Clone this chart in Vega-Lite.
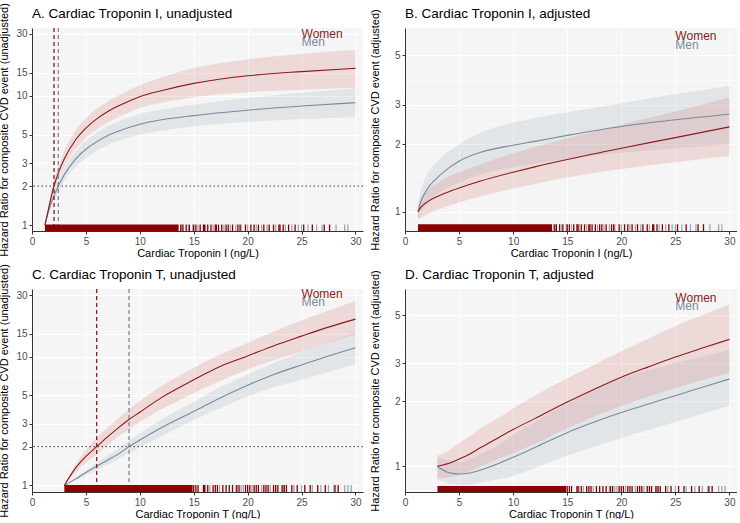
{
  "$schema": "https://vega.github.io/schema/vega-lite/v6.json",
  "background": "white",
  "padding": {"left": -2, "top": 2, "right": 0, "bottom": 0},
  "config": {
    "font": "Liberation Sans",
    "view": {"fill": "#F5F5F5", "stroke": null},
    "title": {"fontSize": 13.5, "fontWeight": "normal", "anchor": "start", "frame": "group", "color": "#000000"},
    "axis": {"minExtent": 0, "domainColor": "#333333", "tickColor": "#333333", "tickSize": 3, "labelColor": "#4D4D4D", "labelFontSize": 10, "labelPadding": 2, "titleFontSize": 11, "titleFontWeight": "normal", "titleColor": "#000000", "gridColor": "#FFFFFF", "labelOverlap": false},
    "axisX": {"titlePadding": 1, "labelFlush": false},
    "axisY": {"format": "d"}
  },
  "datasets": {
    "curves": [
      {"p":"A","s":"Men","x":1.2,"hr":1.0,"lo":1.0,"hi":1.0},
      {"p":"A","s":"Men","x":1.5,"hr":1.25,"lo":1.2,"hi":1.3},
      {"p":"A","s":"Men","x":2,"hr":1.65,"lo":1.52,"hi":1.78},
      {"p":"A","s":"Men","x":2.5,"hr":2.05,"lo":1.85,"hi":2.25},
      {"p":"A","s":"Men","x":3,"hr":2.45,"lo":2.2,"hi":2.75},
      {"p":"A","s":"Men","x":4,"hr":3.2,"lo":2.8,"hi":3.65},
      {"p":"A","s":"Men","x":5,"hr":3.85,"lo":3.3,"hi":4.5},
      {"p":"A","s":"Men","x":6,"hr":4.4,"lo":3.75,"hi":5.15},
      {"p":"A","s":"Men","x":7,"hr":4.9,"lo":4.15,"hi":5.8},
      {"p":"A","s":"Men","x":8,"hr":5.3,"lo":4.45,"hi":6.3},
      {"p":"A","s":"Men","x":10,"hr":6.0,"lo":5.0,"hi":7.2},
      {"p":"A","s":"Men","x":12,"hr":6.5,"lo":5.35,"hi":7.8},
      {"p":"A","s":"Men","x":15,"hr":7.0,"lo":5.8,"hi":8.5},
      {"p":"A","s":"Men","x":20,"hr":7.7,"lo":6.25,"hi":9.6},
      {"p":"A","s":"Men","x":25,"hr":8.3,"lo":6.6,"hi":10.5},
      {"p":"A","s":"Men","x":30,"hr":8.8,"lo":6.8,"hi":11.4},
      {"p":"A","s":"Women","x":1.2,"hr":1.0,"lo":1.0,"hi":1.0},
      {"p":"A","s":"Women","x":1.5,"hr":1.3,"lo":1.22,"hi":1.38},
      {"p":"A","s":"Women","x":2,"hr":1.95,"lo":1.75,"hi":2.2},
      {"p":"A","s":"Women","x":2.5,"hr":2.6,"lo":2.3,"hi":2.95},
      {"p":"A","s":"Women","x":3,"hr":3.25,"lo":2.8,"hi":3.75},
      {"p":"A","s":"Women","x":4,"hr":4.5,"lo":3.8,"hi":5.3},
      {"p":"A","s":"Women","x":5,"hr":5.6,"lo":4.7,"hi":6.7},
      {"p":"A","s":"Women","x":6,"hr":6.6,"lo":5.5,"hi":7.9},
      {"p":"A","s":"Women","x":7,"hr":7.5,"lo":6.2,"hi":9.0},
      {"p":"A","s":"Women","x":8,"hr":8.3,"lo":6.8,"hi":10.0},
      {"p":"A","s":"Women","x":10,"hr":9.8,"lo":8.0,"hi":12.0},
      {"p":"A","s":"Women","x":12,"hr":10.9,"lo":8.8,"hi":13.8},
      {"p":"A","s":"Women","x":15,"hr":12.4,"lo":9.7,"hi":16.3},
      {"p":"A","s":"Women","x":20,"hr":14.2,"lo":10.6,"hi":19.0},
      {"p":"A","s":"Women","x":25,"hr":15.3,"lo":11.1,"hi":21.0},
      {"p":"A","s":"Women","x":30,"hr":16.2,"lo":11.5,"hi":22.5},
      {"p":"B","s":"Men","x":1.2,"hr":1.0,"lo":0.93,"hi":1.08},
      {"p":"B","s":"Men","x":1.5,"hr":1.12,"lo":1.0,"hi":1.25},
      {"p":"B","s":"Men","x":2,"hr":1.25,"lo":1.08,"hi":1.45},
      {"p":"B","s":"Men","x":3,"hr":1.42,"lo":1.2,"hi":1.68},
      {"p":"B","s":"Men","x":4,"hr":1.56,"lo":1.28,"hi":1.85},
      {"p":"B","s":"Men","x":5,"hr":1.68,"lo":1.35,"hi":2.0},
      {"p":"B","s":"Men","x":7,"hr":1.84,"lo":1.47,"hi":2.25},
      {"p":"B","s":"Men","x":10,"hr":1.98,"lo":1.58,"hi":2.5},
      {"p":"B","s":"Men","x":12,"hr":2.06,"lo":1.64,"hi":2.62},
      {"p":"B","s":"Men","x":15,"hr":2.19,"lo":1.72,"hi":2.78},
      {"p":"B","s":"Men","x":20,"hr":2.4,"lo":1.83,"hi":3.05},
      {"p":"B","s":"Men","x":25,"hr":2.57,"lo":1.92,"hi":3.35},
      {"p":"B","s":"Men","x":30,"hr":2.72,"lo":2.0,"hi":3.64},
      {"p":"B","s":"Women","x":1.2,"hr":1.0,"lo":0.92,"hi":1.08},
      {"p":"B","s":"Women","x":1.5,"hr":1.05,"lo":0.94,"hi":1.15},
      {"p":"B","s":"Women","x":2,"hr":1.1,"lo":0.97,"hi":1.24},
      {"p":"B","s":"Women","x":3,"hr":1.17,"lo":1.02,"hi":1.34},
      {"p":"B","s":"Women","x":4,"hr":1.225,"lo":1.06,"hi":1.43},
      {"p":"B","s":"Women","x":5,"hr":1.275,"lo":1.1,"hi":1.5},
      {"p":"B","s":"Women","x":7,"hr":1.37,"lo":1.17,"hi":1.63},
      {"p":"B","s":"Women","x":10,"hr":1.5,"lo":1.27,"hi":1.82},
      {"p":"B","s":"Women","x":12,"hr":1.585,"lo":1.33,"hi":1.94},
      {"p":"B","s":"Women","x":15,"hr":1.71,"lo":1.42,"hi":2.12},
      {"p":"B","s":"Women","x":20,"hr":1.92,"lo":1.55,"hi":2.45},
      {"p":"B","s":"Women","x":25,"hr":2.14,"lo":1.66,"hi":2.8},
      {"p":"B","s":"Women","x":30,"hr":2.39,"lo":1.77,"hi":3.23},
      {"p":"C","s":"Men","x":3,"hr":1.0,"lo":1.0,"hi":1.0},
      {"p":"C","s":"Men","x":4,"hr":1.12,"lo":1.09,"hi":1.15},
      {"p":"C","s":"Men","x":5,"hr":1.26,"lo":1.2,"hi":1.32},
      {"p":"C","s":"Men","x":6,"hr":1.41,"lo":1.32,"hi":1.5},
      {"p":"C","s":"Men","x":7,"hr":1.57,"lo":1.45,"hi":1.7},
      {"p":"C","s":"Men","x":8,"hr":1.75,"lo":1.6,"hi":1.93},
      {"p":"C","s":"Men","x":9,"hr":2.0,"lo":1.79,"hi":2.22},
      {"p":"C","s":"Men","x":10,"hr":2.25,"lo":1.98,"hi":2.55},
      {"p":"C","s":"Men","x":12,"hr":2.8,"lo":2.4,"hi":3.25},
      {"p":"C","s":"Men","x":15,"hr":3.75,"lo":3.2,"hi":4.45},
      {"p":"C","s":"Men","x":17.5,"hr":4.8,"lo":4.0,"hi":5.8},
      {"p":"C","s":"Men","x":20,"hr":6.0,"lo":4.9,"hi":7.3},
      {"p":"C","s":"Men","x":22.5,"hr":7.3,"lo":5.8,"hi":9.0},
      {"p":"C","s":"Men","x":25,"hr":8.6,"lo":6.6,"hi":10.8},
      {"p":"C","s":"Men","x":27.5,"hr":10.1,"lo":7.6,"hi":12.9},
      {"p":"C","s":"Men","x":30,"hr":11.7,"lo":8.7,"hi":15.3},
      {"p":"C","s":"Women","x":3,"hr":1.0,"lo":1.0,"hi":1.0},
      {"p":"C","s":"Women","x":4,"hr":1.35,"lo":1.25,"hi":1.45},
      {"p":"C","s":"Women","x":5,"hr":1.68,"lo":1.5,"hi":1.88},
      {"p":"C","s":"Women","x":6,"hr":2.0,"lo":1.74,"hi":2.34},
      {"p":"C","s":"Women","x":7,"hr":2.38,"lo":2.05,"hi":2.8},
      {"p":"C","s":"Women","x":8,"hr":2.8,"lo":2.4,"hi":3.3},
      {"p":"C","s":"Women","x":9,"hr":3.25,"lo":2.72,"hi":3.9},
      {"p":"C","s":"Women","x":10,"hr":3.7,"lo":3.1,"hi":4.5},
      {"p":"C","s":"Women","x":12,"hr":4.8,"lo":3.9,"hi":5.9},
      {"p":"C","s":"Women","x":15,"hr":6.6,"lo":5.2,"hi":8.2},
      {"p":"C","s":"Women","x":17.5,"hr":8.4,"lo":6.5,"hi":10.4},
      {"p":"C","s":"Women","x":20,"hr":10.1,"lo":7.9,"hi":12.8},
      {"p":"C","s":"Women","x":22.5,"hr":12.2,"lo":9.4,"hi":15.8},
      {"p":"C","s":"Women","x":25,"hr":14.4,"lo":10.9,"hi":19.0},
      {"p":"C","s":"Women","x":27.5,"hr":16.9,"lo":12.8,"hi":22.8},
      {"p":"C","s":"Women","x":30,"hr":19.5,"lo":14.9,"hi":27.0},
      {"p":"D","s":"Men","x":3,"hr":1.0,"lo":0.86,"hi":1.1},
      {"p":"D","s":"Men","x":3.5,"hr":0.96,"lo":0.85,"hi":1.08},
      {"p":"D","s":"Men","x":4,"hr":0.935,"lo":0.83,"hi":1.06},
      {"p":"D","s":"Men","x":5,"hr":0.92,"lo":0.82,"hi":1.05},
      {"p":"D","s":"Men","x":6,"hr":0.93,"lo":0.82,"hi":1.08},
      {"p":"D","s":"Men","x":7,"hr":0.96,"lo":0.84,"hi":1.14},
      {"p":"D","s":"Men","x":8,"hr":1.0,"lo":0.86,"hi":1.2},
      {"p":"D","s":"Men","x":10,"hr":1.1,"lo":0.9,"hi":1.4},
      {"p":"D","s":"Men","x":12,"hr":1.22,"lo":0.98,"hi":1.6},
      {"p":"D","s":"Men","x":15,"hr":1.43,"lo":1.12,"hi":1.95},
      {"p":"D","s":"Men","x":17.5,"hr":1.6,"lo":1.23,"hi":2.25},
      {"p":"D","s":"Men","x":20,"hr":1.77,"lo":1.35,"hi":2.55},
      {"p":"D","s":"Men","x":22.5,"hr":1.94,"lo":1.47,"hi":2.78},
      {"p":"D","s":"Men","x":25,"hr":2.12,"lo":1.6,"hi":3.0},
      {"p":"D","s":"Men","x":27.5,"hr":2.32,"lo":1.75,"hi":3.22},
      {"p":"D","s":"Men","x":30,"hr":2.53,"lo":1.9,"hi":3.45},
      {"p":"D","s":"Women","x":3,"hr":1.0,"lo":0.88,"hi":1.12},
      {"p":"D","s":"Women","x":4,"hr":1.03,"lo":0.89,"hi":1.18},
      {"p":"D","s":"Women","x":5,"hr":1.08,"lo":0.91,"hi":1.28},
      {"p":"D","s":"Women","x":6,"hr":1.14,"lo":0.95,"hi":1.38},
      {"p":"D","s":"Women","x":7,"hr":1.22,"lo":1.0,"hi":1.5},
      {"p":"D","s":"Women","x":8,"hr":1.3,"lo":1.05,"hi":1.6},
      {"p":"D","s":"Women","x":10,"hr":1.48,"lo":1.15,"hi":1.85},
      {"p":"D","s":"Women","x":12,"hr":1.66,"lo":1.27,"hi":2.12},
      {"p":"D","s":"Women","x":15,"hr":1.98,"lo":1.5,"hi":2.55},
      {"p":"D","s":"Women","x":17.5,"hr":2.27,"lo":1.7,"hi":2.95},
      {"p":"D","s":"Women","x":20,"hr":2.58,"lo":1.9,"hi":3.4},
      {"p":"D","s":"Women","x":22.5,"hr":2.88,"lo":2.1,"hi":3.9},
      {"p":"D","s":"Women","x":25,"hr":3.2,"lo":2.3,"hi":4.45},
      {"p":"D","s":"Women","x":27.5,"hr":3.52,"lo":2.5,"hi":5.0},
      {"p":"D","s":"Women","x":30,"hr":3.86,"lo":2.7,"hi":5.6}
    ],
    "denseI": [{"s":"Women","x":1.2,"x2":13.6}],
    "denseT": [{"s":"Women","x":3.0,"x2":14.9}],
    "rugI": [
      {"s":"Men","x":13.9},{"s":"Men","x":14.5},{"s":"Men","x":14.9},{"s":"Men","x":15.4},{"s":"Men","x":16.1},{"s":"Men","x":16.8},{"s":"Men","x":17.8},{"s":"Men","x":18.4},{"s":"Men","x":18.9},{"s":"Men","x":19.4},{"s":"Men","x":20.0},{"s":"Men","x":20.8},{"s":"Men","x":21.3},{"s":"Men","x":21.8},{"s":"Men","x":22.6},{"s":"Men","x":23.5},{"s":"Men","x":24.1},{"s":"Men","x":24.7},{"s":"Men","x":25.0},{"s":"Men","x":25.6},{"s":"Men","x":26.4},{"s":"Men","x":26.9},{"s":"Men","x":28.2},{"s":"Men","x":29.0},{"s":"Men","x":29.3},
      {"s":"Women","x":13.8},{"s":"Women","x":14.0},{"s":"Women","x":14.3},{"s":"Women","x":14.6},{"s":"Women","x":15.0},{"s":"Women","x":15.2},{"s":"Women","x":15.6},{"s":"Women","x":15.9},{"s":"Women","x":16.0},{"s":"Women","x":16.3},{"s":"Women","x":16.6},{"s":"Women","x":17.0},{"s":"Women","x":17.1},{"s":"Women","x":17.3},{"s":"Women","x":17.6},{"s":"Women","x":18.0},{"s":"Women","x":18.2},{"s":"Women","x":18.6},{"s":"Women","x":19.1},{"s":"Women","x":19.3},{"s":"Women","x":19.8},{"s":"Women","x":20.3},{"s":"Women","x":20.6},{"s":"Women","x":21.0},{"s":"Women","x":21.5},{"s":"Women","x":22.0},{"s":"Women","x":22.4},{"s":"Women","x":22.9},{"s":"Women","x":23.0},{"s":"Women","x":23.3},{"s":"Women","x":23.8},{"s":"Women","x":24.4},{"s":"Women","x":25.2},{"s":"Women","x":26.0},{"s":"Women","x":27.1},{"s":"Women","x":27.6}
    ],
    "rugT": [
      {"s":"Men","x":16.1},{"s":"Men","x":16.5},{"s":"Men","x":17.4},{"s":"Men","x":18.9},{"s":"Men","x":19.4},{"s":"Men","x":19.6},{"s":"Men","x":20.4},{"s":"Men","x":21.3},{"s":"Men","x":22.1},{"s":"Men","x":23.3},{"s":"Men","x":24.3},{"s":"Men","x":25.0},{"s":"Men","x":26.0},{"s":"Men","x":26.8},{"s":"Men","x":27.5},{"s":"Men","x":28.0},{"s":"Men","x":29.0},{"s":"Men","x":29.3},{"s":"Men","x":29.6},
      {"s":"Women","x":15.0},{"s":"Women","x":15.2},{"s":"Women","x":15.4},{"s":"Women","x":15.9},{"s":"Women","x":16.0},{"s":"Women","x":16.3},{"s":"Women","x":16.8},{"s":"Women","x":17.0},{"s":"Women","x":17.2},{"s":"Women","x":17.7},{"s":"Women","x":18.0},{"s":"Women","x":18.3},{"s":"Women","x":18.6},{"s":"Women","x":19.0},{"s":"Women","x":19.2},{"s":"Women","x":19.8},{"s":"Women","x":20.0},{"s":"Women","x":20.2},{"s":"Women","x":20.6},{"s":"Women","x":20.8},{"s":"Women","x":21.0},{"s":"Women","x":21.5},{"s":"Women","x":21.7},{"s":"Women","x":21.9},{"s":"Women","x":22.4},{"s":"Women","x":22.6},{"s":"Women","x":22.8},{"s":"Women","x":23.2},{"s":"Women","x":23.4},{"s":"Women","x":23.6},{"s":"Women","x":24.1},{"s":"Women","x":24.6},{"s":"Women","x":25.3},{"s":"Women","x":25.8},{"s":"Women","x":26.5},{"s":"Women","x":27.2},{"s":"Women","x":28.1},{"s":"Women","x":28.4}
    ],
    "labA": [{"s":"Women","x":25,"y":29.9},{"s":"Men","x":25,"y":25.7}],
    "labB": [{"s":"Women","x":25,"y":6.06},{"s":"Men","x":25,"y":5.52}],
    "labC": [{"s":"Women","x":25,"y":30.4},{"s":"Men","x":25,"y":26.4}],
    "labD": [{"s":"Women","x":25,"y":6.02},{"s":"Men","x":25,"y":5.53}],
    "one": [{}]
  },
  "columns": 2,
  "bounds": "flush",
  "spacing": {"row": 58, "column": 42},
  "resolve": {"scale": {"x": "independent", "y": "independent"}},
  "concat": [
    {
      "title": {"text": "A. Cardiac Troponin I, unadjusted", "anchor": "start", "frame": "group", "offset": -18},
      "width": 331, "height": 203,
      "layer": [
        {"data": {"name": "curves"}, "transform": [{"filter": "datum.p == 'A'"}],
         "mark": {"type": "area", "interpolate": "monotone", "fillOpacity": 0.15},
         "encoding": {
           "x": {"field": "x", "type": "quantitative", "scale": {"domain": [0, 30.7], "nice": false, "zero": false},
             "axis": {"title": "Cardiac Troponin I (ng/L)", "values": [0,2.5,5,7.5,10,12.5,15,17.5,20,22.5,25,27.5,30],
               "labelExpr": "datum.value % 5 == 0 ? datum.label : ''",
               "tickOpacity": {"condition": {"test": "datum.value % 5 != 0", "value": 0}, "value": 1},
               "gridWidth": {"condition": {"test": "datum.value % 5 != 0", "value": 0.5}, "value": 1}}},
           "y": {"field": "lo", "type": "quantitative", "scale": {"type": "log", "domain": [0.9, 33.2], "nice": false},
             "axis": {"title": "Hazard Ratio for composite CVD event (unadjusted)", "titlePadding": 6,
               "values": [1,1.414,2,2.449,3,3.873,5,7.071,10,12.25,15,21.21,30],
               "labelExpr": "indexof([1,2,3,5,10,15,30], datum.value) < 0 ? '' : datum.label",
               "tickOpacity": {"condition": {"test": "indexof([1,2,3,5,10,15,30], datum.value) < 0", "value": 0}, "value": 1},
               "gridWidth": {"condition": {"test": "indexof([1,2,3,5,10,15,30], datum.value) < 0", "value": 0.5}, "value": 1}}},
           "y2": {"field": "hi"},
           "fill": {"field": "s", "type": "nominal", "scale": {"domain": ["Women","Men"], "range": ["#C83C3C","#788CA0"]}, "legend": null}
         }},
        {"data": {"name": "curves"}, "transform": [{"filter": "datum.p == 'A'"}],
         "mark": {"type": "line", "interpolate": "monotone", "strokeWidth": 1.1},
         "encoding": {
           "x": {"field": "x", "type": "quantitative"},
           "y": {"field": "hr", "type": "quantitative"},
           "color": {"field": "s", "type": "nominal", "scale": {"domain": ["Women","Men"], "range": ["#8B1A1A","#7A8A9A"]}, "legend": null}
         }},
        {"data": {"name": "one"}, "mark": {"type": "rule", "color": "#8B1A1A", "strokeDash": [4,3], "strokeWidth": 1.3}, "encoding": {"x": {"datum": 2.04}}},
        {"data": {"name": "one"}, "mark": {"type": "rule", "color": "#7A8A9A", "strokeDash": [4,3], "strokeWidth": 1.3}, "encoding": {"x": {"datum": 2.44}}},
        {"data": {"name": "one"}, "mark": {"type": "rule", "color": "#555555", "strokeDash": [1.5,2.5], "strokeWidth": 1.2}, "encoding": {"y": {"datum": 2}}},
        {"data": {"name": "denseI"}, "mark": {"type": "rect", "color": "#8B0000"},
         "encoding": {"x": {"field": "x", "type": "quantitative"}, "x2": {"field": "x2"}, "y": {"datum": 0.9}, "y2": {"datum": 1.01}}},
        {"data": {"name": "rugI"}, "mark": {"type": "rule", "strokeWidth": 1.3},
         "encoding": {"x": {"field": "x", "type": "quantitative"}, "y": {"datum": 0.9}, "y2": {"datum": 1.01},
           "stroke": {"field": "s", "type": "nominal", "scale": {"domain": ["Women","Men"], "range": ["#8B0000","#9AAABA"]}, "legend": null}}},
        {"data": {"name": "labA"}, "mark": {"type": "text", "align": "left", "baseline": "middle", "fontSize": 12},
         "encoding": {"x": {"field": "x", "type": "quantitative"}, "y": {"field": "y", "type": "quantitative"}, "text": {"field": "s"},
           "color": {"field": "s", "type": "nominal", "scale": {"domain": ["Women","Men"], "range": ["#8B1A1A","#7A8A9A"]}, "legend": null}}}
      ]
    },
    {
      "title": {"text": "B. Cardiac Troponin I, adjusted", "anchor": "start", "frame": "group", "offset": -12},
      "width": 332, "height": 203,
      "layer": [
        {"data": {"name": "curves"}, "transform": [{"filter": "datum.p == 'B'"}],
         "mark": {"type": "area", "interpolate": "monotone", "fillOpacity": 0.15},
         "encoding": {
           "x": {"field": "x", "type": "quantitative", "scale": {"domain": [0, 30.7], "nice": false, "zero": false},
             "axis": {"title": "Cardiac Troponin I (ng/L)", "values": [0,2.5,5,7.5,10,12.5,15,17.5,20,22.5,25,27.5,30],
               "labelExpr": "datum.value % 5 == 0 ? datum.label : ''",
               "tickOpacity": {"condition": {"test": "datum.value % 5 != 0", "value": 0}, "value": 1},
               "gridWidth": {"condition": {"test": "datum.value % 5 != 0", "value": 0.5}, "value": 1}}},
           "y": {"field": "lo", "type": "quantitative", "scale": {"type": "log", "domain": [0.82, 6.6], "nice": false},
             "axis": {"title": "Hazard Ratio for composite CVD event (adjusted)", "titlePadding": 14,
               "values": [1,1.414,2,2.449,3,3.873,5],
               "labelExpr": "indexof([1,2,3,5], datum.value) < 0 ? '' : datum.label",
               "tickOpacity": {"condition": {"test": "indexof([1,2,3,5], datum.value) < 0", "value": 0}, "value": 1},
               "gridWidth": {"condition": {"test": "indexof([1,2,3,5], datum.value) < 0", "value": 0.5}, "value": 1}}},
           "y2": {"field": "hi"},
           "fill": {"field": "s", "type": "nominal", "scale": {"domain": ["Women","Men"], "range": ["#C83C3C","#788CA0"]}, "legend": null}
         }},
        {"data": {"name": "curves"}, "transform": [{"filter": "datum.p == 'B'"}],
         "mark": {"type": "line", "interpolate": "monotone", "strokeWidth": 1.1},
         "encoding": {
           "x": {"field": "x", "type": "quantitative"},
           "y": {"field": "hr", "type": "quantitative"},
           "color": {"field": "s", "type": "nominal", "scale": {"domain": ["Women","Men"], "range": ["#8B1A1A","#7A8A9A"]}, "legend": null}
         }},
        {"data": {"name": "denseI"}, "mark": {"type": "rect", "color": "#8B0000"},
         "encoding": {"x": {"field": "x", "type": "quantitative"}, "x2": {"field": "x2"}, "y": {"datum": 0.82}, "y2": {"datum": 0.879}}},
        {"data": {"name": "rugI"}, "mark": {"type": "rule", "strokeWidth": 1.3},
         "encoding": {"x": {"field": "x", "type": "quantitative"}, "y": {"datum": 0.82}, "y2": {"datum": 0.879},
           "stroke": {"field": "s", "type": "nominal", "scale": {"domain": ["Women","Men"], "range": ["#8B0000","#9AAABA"]}, "legend": null}}},
        {"data": {"name": "labB"}, "mark": {"type": "text", "align": "left", "baseline": "middle", "fontSize": 12},
         "encoding": {"x": {"field": "x", "type": "quantitative"}, "y": {"field": "y", "type": "quantitative"}, "text": {"field": "s"},
           "color": {"field": "s", "type": "nominal", "scale": {"domain": ["Women","Men"], "range": ["#8B1A1A","#7A8A9A"]}, "legend": null}}}
      ]
    },
    {
      "title": {"text": "C. Cardiac Troponin T, unadjusted", "anchor": "start", "frame": "group", "offset": -18},
      "width": 331, "height": 203,
      "layer": [
        {"data": {"name": "curves"}, "transform": [{"filter": "datum.p == 'C'"}],
         "mark": {"type": "area", "interpolate": "monotone", "fillOpacity": 0.15},
         "encoding": {
           "x": {"field": "x", "type": "quantitative", "scale": {"domain": [0, 30.7], "nice": false, "zero": false},
             "axis": {"title": "Cardiac Troponin T (ng/L)", "values": [0,2.5,5,7.5,10,12.5,15,17.5,20,22.5,25,27.5,30],
               "labelExpr": "datum.value % 5 == 0 ? datum.label : ''",
               "tickOpacity": {"condition": {"test": "datum.value % 5 != 0", "value": 0}, "value": 1},
               "gridWidth": {"condition": {"test": "datum.value % 5 != 0", "value": 0.5}, "value": 1}}},
           "y": {"field": "lo", "type": "quantitative", "scale": {"type": "log", "domain": [0.89, 33.4], "nice": false},
             "axis": {"title": "Hazard Ratio for composite CVD event (unadjusted)", "titlePadding": 6,
               "values": [1,1.414,2,2.449,3,3.873,5,7.071,10,12.25,15,21.21,30],
               "labelExpr": "indexof([1,2,3,5,10,15,30], datum.value) < 0 ? '' : datum.label",
               "tickOpacity": {"condition": {"test": "indexof([1,2,3,5,10,15,30], datum.value) < 0", "value": 0}, "value": 1},
               "gridWidth": {"condition": {"test": "indexof([1,2,3,5,10,15,30], datum.value) < 0", "value": 0.5}, "value": 1}}},
           "y2": {"field": "hi"},
           "fill": {"field": "s", "type": "nominal", "scale": {"domain": ["Women","Men"], "range": ["#C83C3C","#788CA0"]}, "legend": null}
         }},
        {"data": {"name": "curves"}, "transform": [{"filter": "datum.p == 'C'"}],
         "mark": {"type": "line", "interpolate": "monotone", "strokeWidth": 1.1},
         "encoding": {
           "x": {"field": "x", "type": "quantitative"},
           "y": {"field": "hr", "type": "quantitative"},
           "color": {"field": "s", "type": "nominal", "scale": {"domain": ["Women","Men"], "range": ["#8B1A1A","#7A8A9A"]}, "legend": null}
         }},
        {"data": {"name": "one"}, "mark": {"type": "rule", "color": "#8B1A1A", "strokeDash": [4,3], "strokeWidth": 1.3}, "encoding": {"x": {"datum": 6.0}}},
        {"data": {"name": "one"}, "mark": {"type": "rule", "color": "#7A8A9A", "strokeDash": [4,3], "strokeWidth": 1.3}, "encoding": {"x": {"datum": 9.0}}},
        {"data": {"name": "one"}, "mark": {"type": "rule", "color": "#555555", "strokeDash": [1.5,2.5], "strokeWidth": 1.2}, "encoding": {"y": {"datum": 2}}},
        {"data": {"name": "denseT"}, "mark": {"type": "rect", "color": "#8B0000"},
         "encoding": {"x": {"field": "x", "type": "quantitative"}, "x2": {"field": "x2"}, "y": {"datum": 0.89}, "y2": {"datum": 1.01}}},
        {"data": {"name": "rugT"}, "mark": {"type": "rule", "strokeWidth": 1.3},
         "encoding": {"x": {"field": "x", "type": "quantitative"}, "y": {"datum": 0.89}, "y2": {"datum": 1.01},
           "stroke": {"field": "s", "type": "nominal", "scale": {"domain": ["Women","Men"], "range": ["#8B0000","#9AAABA"]}, "legend": null}}},
        {"data": {"name": "labC"}, "mark": {"type": "text", "align": "left", "baseline": "middle", "fontSize": 12},
         "encoding": {"x": {"field": "x", "type": "quantitative"}, "y": {"field": "y", "type": "quantitative"}, "text": {"field": "s"},
           "color": {"field": "s", "type": "nominal", "scale": {"domain": ["Women","Men"], "range": ["#8B1A1A","#7A8A9A"]}, "legend": null}}}
      ]
    },
    {
      "title": {"text": "D. Cardiac Troponin T, adjusted", "anchor": "start", "frame": "group", "offset": -12},
      "width": 332, "height": 203,
      "layer": [
        {"data": {"name": "curves"}, "transform": [{"filter": "datum.p == 'D'"}],
         "mark": {"type": "area", "interpolate": "monotone", "fillOpacity": 0.15},
         "encoding": {
           "x": {"field": "x", "type": "quantitative", "scale": {"domain": [0, 30.7], "nice": false, "zero": false},
             "axis": {"title": "Cardiac Troponin T (ng/L)", "values": [0,2.5,5,7.5,10,12.5,15,17.5,20,22.5,25,27.5,30],
               "labelExpr": "datum.value % 5 == 0 ? datum.label : ''",
               "tickOpacity": {"condition": {"test": "datum.value % 5 != 0", "value": 0}, "value": 1},
               "gridWidth": {"condition": {"test": "datum.value % 5 != 0", "value": 0.5}, "value": 1}}},
           "y": {"field": "lo", "type": "quantitative", "scale": {"type": "log", "domain": [0.76, 6.6], "nice": false},
             "axis": {"title": "Hazard Ratio for composite CVD event (adjusted)", "titlePadding": 14,
               "values": [0.775,1,1.414,2,2.449,3,3.873,5],
               "labelExpr": "indexof([1,2,3,5], datum.value) < 0 ? '' : datum.label",
               "tickOpacity": {"condition": {"test": "indexof([1,2,3,5], datum.value) < 0", "value": 0}, "value": 1},
               "gridWidth": {"condition": {"test": "indexof([1,2,3,5], datum.value) < 0", "value": 0.5}, "value": 1}}},
           "y2": {"field": "hi"},
           "fill": {"field": "s", "type": "nominal", "scale": {"domain": ["Women","Men"], "range": ["#C83C3C","#788CA0"]}, "legend": null}
         }},
        {"data": {"name": "curves"}, "transform": [{"filter": "datum.p == 'D'"}],
         "mark": {"type": "line", "interpolate": "monotone", "strokeWidth": 1.1},
         "encoding": {
           "x": {"field": "x", "type": "quantitative"},
           "y": {"field": "hr", "type": "quantitative"},
           "color": {"field": "s", "type": "nominal", "scale": {"domain": ["Women","Men"], "range": ["#8B1A1A","#7A8A9A"]}, "legend": null}
         }},
        {"data": {"name": "denseT"}, "mark": {"type": "rect", "color": "#8B0000"},
         "encoding": {"x": {"field": "x", "type": "quantitative"}, "x2": {"field": "x2"}, "y": {"datum": 0.76}, "y2": {"datum": 0.81}}},
        {"data": {"name": "rugT"}, "mark": {"type": "rule", "strokeWidth": 1.3},
         "encoding": {"x": {"field": "x", "type": "quantitative"}, "y": {"datum": 0.76}, "y2": {"datum": 0.81},
           "stroke": {"field": "s", "type": "nominal", "scale": {"domain": ["Women","Men"], "range": ["#8B0000","#9AAABA"]}, "legend": null}}},
        {"data": {"name": "labD"}, "mark": {"type": "text", "align": "left", "baseline": "middle", "fontSize": 12},
         "encoding": {"x": {"field": "x", "type": "quantitative"}, "y": {"field": "y", "type": "quantitative"}, "text": {"field": "s"},
           "color": {"field": "s", "type": "nominal", "scale": {"domain": ["Women","Men"], "range": ["#8B1A1A","#7A8A9A"]}, "legend": null}}}
      ]
    }
  ]
}
